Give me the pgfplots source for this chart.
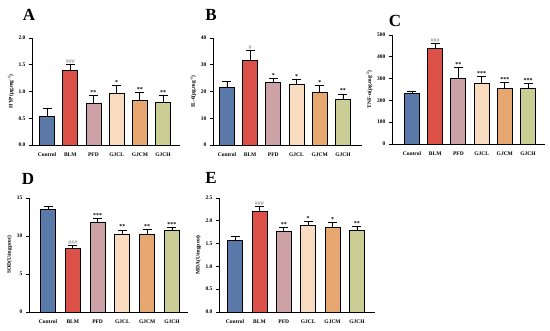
\documentclass[border=0pt]{standalone}
\usepackage{fontspec}
\setmainfont{Liberation Serif}
\usepackage{pgfplots}
\pgfplotsset{compat=1.18}
\definecolor{cCtrl}{HTML}{5A79A9}
\definecolor{cBLM}{HTML}{DC5147}
\definecolor{cPFD}{HTML}{CCA2A6}
\definecolor{cGJCL}{HTML}{F9DBBF}
\definecolor{cGJCM}{HTML}{E6A870}
\definecolor{cGJCH}{HTML}{CBCE94}
\definecolor{cHash}{HTML}{9A9A9A}
\pgfplotsset{
  panel/.style={
    scale only axis, anchor=south west, clip=false,
    axis lines=left, axis line style={-, line width=0.9pt, black},
    ymin=0,
    xtick={0,1,2,3,4,5},
    xticklabels={Control,BLM,PFD,GJCL,GJCM,GJCH},
    x tick style={draw=none},
    y tick style={black, line width=0.8pt},
    major tick length=3pt, tick align=outside,
    ytick pos=left,
    /pgf/number format/assume math mode=true,
    tick label style={font=\bfseries\fontsize{5.5}{6}\selectfont},
    xticklabel style={yshift=-1pt},
    ylabel style={font=\bfseries\fontsize{5.5}{6}\selectfont, yshift=-2pt},
  },
  bar/.style={ybar, bar width=#1, bar shift=0pt, draw=black, line width=0.8pt,
    error bars/y dir=plus, error bars/y explicit,
    error bars/error bar style={black, line width=0.8pt},
    error bars/error mark options={rotate=90, mark size=4.5pt, black, line width=0.8pt}},
  ann/.style={draw=none, mark=none, nodes near coords, point meta=explicit symbolic,
    nodes near coords style={anchor=south, inner sep=0.8pt, font=\bfseries\fontsize{6}{6}\selectfont, text=#1}},
}
\newcommand{\plab}[3]{\node[font=\bfseries\fontsize{17}{17}\selectfont, anchor=center] at (#1pt,#2pt) {#3};}
\begin{document}
\begin{tikzpicture}[x=1pt,y=1pt]
\path[use as bounding box] (0,0) rectangle (550,331);
\plab{29}{316}{A}
\plab{211}{316}{B}
\plab{395}{310}{C}
\plab{28}{152}{D}
\plab{211}{153}{E}
% ---------- A
\begin{axis}[panel, at={(32pt,186pt)}, width=148pt, height=107pt,
  xmin=-0.65, xmax=5.73, ymax=2, ytick={0,0.5,1,1.5,2},
  yticklabel style={/pgf/number format/.cd, fixed, fixed zerofill, precision=1},
  ylabel={HYP(μg.mg\textsuperscript{-1})}]
\addplot[bar=15pt, fill=cCtrl] coordinates {(0,0.54) +- (0,0.15)};
\addplot[bar=15pt, fill=cBLM]  coordinates {(1,1.40) +- (0,0.10)};
\addplot[bar=15pt, fill=cPFD]  coordinates {(2,0.78) +- (0,0.14)};
\addplot[bar=15pt, fill=cGJCL] coordinates {(3,0.97) +- (0,0.15)};
\addplot[bar=15pt, fill=cGJCM] coordinates {(4,0.84) +- (0,0.14)};
\addplot[bar=15pt, fill=cGJCH] coordinates {(5,0.80) +- (0,0.13)};
\addplot[ann=cHash] coordinates {(1,1.50)[\#\#\#]};
\addplot[ann=black] coordinates {(2,0.92)[**] (3,1.12)[*] (4,0.98)[**] (5,0.93)[**]};
\end{axis}
% ---------- B
\begin{axis}[panel, at={(213pt,186pt)}, width=149pt, height=107pt,
  xmin=-0.6, xmax=5.82, ymax=40, ytick={0,10,20,30,40},
  ylabel={IL-6(pg.mg\textsuperscript{-1})}]
\addplot[bar=15pt, fill=cCtrl] coordinates {(0,21.4) +- (0,2.3)};
\addplot[bar=15pt, fill=cBLM]  coordinates {(1,31.5) +- (0,3.7)};
\addplot[bar=15pt, fill=cPFD]  coordinates {(2,23.3) +- (0,1.5)};
\addplot[bar=15pt, fill=cGJCL] coordinates {(3,22.8) +- (0,1.6)};
\addplot[bar=15pt, fill=cGJCM] coordinates {(4,19.7) +- (0,2.7)};
\addplot[bar=15pt, fill=cGJCH] coordinates {(5,17.1) +- (0,2.0)};
\addplot[ann=cHash] coordinates {(1,35.2)[\#]};
\addplot[ann=black] coordinates {(2,24.8)[*] (3,24.4)[*] (4,22.4)[*] (5,19.1)[**]};
\end{axis}
% ---------- C
\begin{axis}[panel, at={(392pt,187pt)}, width=153pt, height=109pt,
  xmin=-0.86, xmax=5.73, ymax=500, ytick={0,100,200,300,400,500},
  ylabel={TNF-α(pg.mg\textsuperscript{-1})}]
\addplot[bar=15pt, fill=cCtrl] coordinates {(0,232) +- (0,10)};
\addplot[bar=15pt, fill=cBLM]  coordinates {(1,440) +- (0,22)};
\addplot[bar=15pt, fill=cPFD]  coordinates {(2,303) +- (0,47)};
\addplot[bar=15pt, fill=cGJCL] coordinates {(3,279) +- (0,29)};
\addplot[bar=15pt, fill=cGJCM] coordinates {(4,253) +- (0,28)};
\addplot[bar=15pt, fill=cGJCH] coordinates {(5,256) +- (0,21)};
\addplot[ann=cHash] coordinates {(1,462)[\#\#\#]};
\addplot[ann=black] coordinates {(2,350)[**] (3,308)[***] (4,281)[***] (5,277)[***]};
\end{axis}
% ---------- D
\begin{axis}[panel, at={(29pt,19pt)}, width=159pt, height=114pt,
  xmin=-0.77, xmax=5.65, ymax=15, ytick={0,5,10,15},
  ylabel={SOD(U/mgprot)}]
\addplot[bar=15pt, fill=cCtrl] coordinates {(0,13.45) +- (0,0.45)};
\addplot[bar=15pt, fill=cBLM]  coordinates {(1,8.4) +- (0,0.35)};
\addplot[bar=15pt, fill=cPFD]  coordinates {(2,11.85) +- (0,0.45)};
\addplot[bar=15pt, fill=cGJCL] coordinates {(3,10.25) +- (0,0.55)};
\addplot[bar=15pt, fill=cGJCM] coordinates {(4,10.25) +- (0,0.6)};
\addplot[bar=15pt, fill=cGJCH] coordinates {(5,10.7) +- (0,0.45)};
\addplot[ann=cHash] coordinates {(1,8.75)[\#\#\#]};
\addplot[ann=black] coordinates {(2,12.3)[***] (3,10.8)[**] (4,10.85)[**] (5,11.15)[***]};
\end{axis}
% ---------- E
\begin{axis}[panel, at={(219pt,19pt)}, width=156pt, height=114pt,
  xmin=-0.66, xmax=5.74, ymax=2.5, ytick={0,0.5,1,1.5,2,2.5},
  yticklabel style={/pgf/number format/.cd, fixed, fixed zerofill, precision=1},
  ylabel={MDA(U/mgprot)}]
\addplot[bar=15pt, fill=cCtrl] coordinates {(0,1.58) +- (0,0.08)};
\addplot[bar=15pt, fill=cBLM]  coordinates {(1,2.21) +- (0,0.11)};
\addplot[bar=15pt, fill=cPFD]  coordinates {(2,1.77) +- (0,0.08)};
\addplot[bar=15pt, fill=cGJCL] coordinates {(3,1.90) +- (0,0.09)};
\addplot[bar=15pt, fill=cGJCM] coordinates {(4,1.86) +- (0,0.10)};
\addplot[bar=15pt, fill=cGJCH] coordinates {(5,1.78) +- (0,0.09)};
\addplot[ann=cHash] coordinates {(1,2.32)[\#\#\#]};
\addplot[ann=black] coordinates {(2,1.85)[**] (3,1.99)[*] (4,1.96)[*] (5,1.87)[**]};
\end{axis}
\end{tikzpicture}
\end{document}
